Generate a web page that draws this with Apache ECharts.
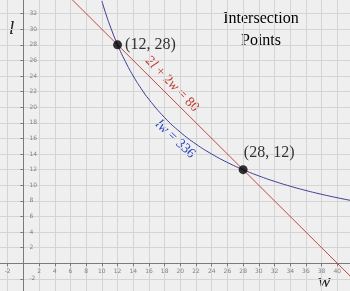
<!DOCTYPE html>
<html>
<head>
<meta charset="utf-8">
<script src="https://cdn.jsdelivr.net/npm/echarts@6/dist/echarts.min.js"></script>
<style>
  html, body { margin: 0; padding: 0; background: #efefef; }
  #main { width: 350px; height: 291px; }
</style>
</head>
<body>
<div id="main"></div>
<script>
// lw = 336
var curveW = [10, 10.5, 11, 12, 13, 14, 15, 16, 18, 20, 22, 24, 26, 28, 30, 32, 34, 36, 38, 40, 42];
var curveL = [33.6, 32, 30.55, 28, 25.85, 24, 22.4, 21, 18.67, 16.8, 15.27, 14, 12.92, 12, 11.2, 10.5, 9.88, 9.33, 8.84, 8.4, 8];
// 2l + 2w = 80, end points
var lineW = [4, 44];
var lineL = [36, -4];
// intersection points
var points = [[12, 28], [28, 12]];
var pointLabels = ['(12, 28)', '(28, 12)'];
// tick labels
var xTicks = [-2, 2, 4, 6, 8, 10, 12, 14, 16, 18, 20, 22, 24, 26, 28, 30, 32, 34, 36, 38, 40];
var yTicks = [-2, 2, 4, 6, 8, 10, 12, 14, 16, 18, 20, 22, 24, 26, 28, 30, 32];

var chart = echarts.init(document.getElementById('main'));
var serif = '"Liberation Serif", "DejaVu Serif", serif';

function zip(a, b) {
    var out = [];
    for (var i = 0; i < a.length; i++) out.push([a[i], b[i]]);
    return out;
}

var axisCommon = {
    type: 'value',
    interval: 2,
    axisLine: { onZero: true, lineStyle: { color: '#7a7a7a', width: 1 } },
    axisTick: { show: true, inside: false, length: 3, lineStyle: { color: '#7a7a7a' } },
    splitLine: { show: true, lineStyle: { color: '#d4d4d4', width: 1 } },
    axisLabel: { show: false }
};

var tickLabel = { show: true, fontSize: 6, color: '#666', fontFamily: 'DejaVu Sans' };

chart.setOption({
    backgroundColor: '#efefef',
    animation: false,
    grid: { left: -8, right: -3, top: -2, bottom: -3.5, containLabel: false, outerBoundsMode: 'none' },
    xAxis: Object.assign({}, axisCommon, { min: -4, max: 42 }),
    yAxis: Object.assign({}, axisCommon, { min: -4, max: 34 }),
    series: [
        {
            type: 'scatter',
            data: xTicks.map(function (v) { return [v, 0]; }),
            symbolSize: 0,
            silent: true,
            label: Object.assign({}, tickLabel, {
                position: 'bottom', distance: 5,
                formatter: function (p) { return String(p.value[0]); }
            })
        },
        {
            type: 'scatter',
            data: yTicks.map(function (v) { return [0, v]; }),
            symbolSize: 0,
            silent: true,
            label: Object.assign({}, tickLabel, {
                position: 'right', distance: 6,
                formatter: function (p) { return String(p.value[1]); }
            })
        },
        {
            type: 'line',
            data: zip(lineW, lineL),
            symbol: 'none',
            lineStyle: { color: '#c04848', width: 1 },
            z: 3
        },
        {
            type: 'line',
            data: zip(curveW, curveL),
            smooth: true,
            symbol: 'none',
            lineStyle: { color: '#3c3c96', width: 1 },
            z: 3
        },
        {
            type: 'scatter',
            data: points.map(function (p, i) {
                return {
                    value: p,
                    label: {
                        show: true,
                        formatter: pointLabels[i],
                        position: i === 0 ? 'right' : 'top',
                        distance: i === 0 ? 3 : 4,
                        offset: i === 0 ? [0, 0] : [26, 0]
                    }
                };
            }),
            symbolSize: 9,
            itemStyle: { color: '#000' },
            label: { fontFamily: serif, fontSize: 16, color: '#000' },
            z: 5
        }
    ],
    graphic: [
        {
            type: 'text', x: 261, y: 8,
            style: { text: 'Intersection\nPoints', font: '16px ' + serif, fill: '#000', align: 'center', verticalAlign: 'top', lineHeight: 22 }
        },
        {
            type: 'text', x: 9, y: 19,
            style: { text: 'l', font: 'italic 19px ' + serif, fill: '#222', verticalAlign: 'top' }
        },
        {
            type: 'text', x: 318, y: 272,
            style: { text: 'w', font: 'italic 19px ' + serif, fill: '#222', verticalAlign: 'top' }
        },
        {
            type: 'text', x: 167, y: 89, rotation: -Math.PI / 4 - 0.02,
            style: {
                text: '2{i|l} + 2{i|w} = 80',
                font: '14px ' + serif, fill: '#c0392b',
                align: 'center', verticalAlign: 'bottom',
                rich: { i: { fontStyle: 'italic', fontFamily: serif, fontSize: 14, fill: '#c0392b' } }
            }
        },
        {
            type: 'text', x: 180, y: 134, rotation: -0.75,
            style: {
                text: '{i|lw} = 336',
                font: '14px ' + serif, fill: '#2340c0',
                align: 'center', verticalAlign: 'top',
                rich: { i: { fontStyle: 'italic', fontFamily: serif, fontSize: 14, fill: '#2340c0' } }
            }
        }
    ]
});
</script>
</body>
</html>
